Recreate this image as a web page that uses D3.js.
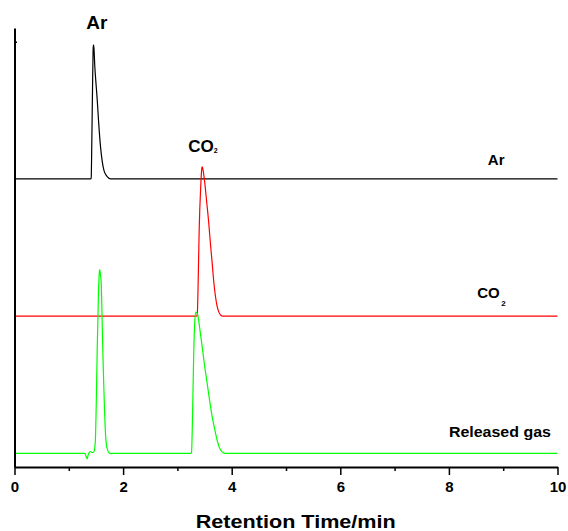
<!DOCTYPE html>
<html>
<head>
<meta charset="utf-8">
<script src="https://cdn.jsdelivr.net/npm/d3@7"></script>
<style>
  body { margin: 0; background: #fff; }
  text { font-family: "Liberation Sans", Arial, sans-serif; font-weight: bold; }
</style>
</head>
<body>
<script>
// Stacked chromatograms: Ar standard, CO2 standard, released gas

// x ticks
var xTicks = [0, 2, 4, 6, 8, 10];
var xMinorTicks = [1, 3, 5, 7, 9];

// trace names and vertical offsets (signal units)
var traceNames = ["Ar", "CO2", "Released gas"];
var traceOffsets = [20, 10, 0];
var traceColors = ["#000000", "#ff0000", "#00ff00"];

// [retention time (min), signal]
var argonTrace = [[0, 0], [1.40, 0], [1.412, 0.05], [1.425, 3.0], [1.44, 7.5], [1.45, 9.6], [1.455, 9.77],
  [1.462, 9.6], [1.479, 8.2], [1.50, 7.0], [1.523, 5.8], [1.55, 4.1], [1.584, 2.35], [1.615, 1.3],
  [1.645, 0.66], [1.675, 0.35], [1.707, 0.17], [1.768, 0], [10, 0]];

var co2Trace = [[0, 0], [3.35, 0], [3.365, 0.05], [3.38, 2.0], [3.401, 6.27], [3.43, 9.5], [3.45, 10.8],
  [3.457, 10.88], [3.47, 10.7], [3.505, 9.67], [3.54, 8.3], [3.578, 6.76], [3.61, 5.2], [3.641, 3.84],
  [3.67, 2.5], [3.702, 1.41], [3.73, 0.75], [3.762, 0.31], [3.79, 0.1], [3.825, 0], [10, 0]];

var releasedTrace = [[0, 0], [1.295, 0], [1.32, -0.25], [1.339, -0.41], [1.355, -0.15], [1.368, 0],
  [1.40, 0.12], [1.431, 0.05], [1.46, 0.1], [1.475, 0.3], [1.492, 1.19], [1.505, 3.5], [1.523, 7.5],
  [1.545, 11.5], [1.565, 13.3], [1.571, 13.39], [1.58, 13.1], [1.597, 12.37], [1.615, 9.5], [1.634, 6.29],
  [1.655, 3.5], [1.676, 1.43], [1.69, 0.7], [1.707, 0.34], [1.737, 0.05], [1.76, 0], [3.25, 0],
  [3.26, 0.05], [3.28, 3.0], [3.302, 7.51], [3.32, 9.6], [3.339, 10.3], [3.355, 10.25], [3.376, 10.06],
  [3.415, 9.0], [3.457, 7.75], [3.5, 6.4], [3.549, 5.08], [3.595, 3.8], [3.641, 2.65], [3.69, 1.7],
  [3.733, 0.93], [3.77, 0.45], [3.812, 0.15], [3.85, 0.03], [3.886, 0], [10, 0]];

var traces = [argonTrace, co2Trace, releasedTrace];

//Set size for chart
var svgwidth = 568;
var svgheight = 531;

var svg = d3.select("body")
            .append("svg")
            .attr("width", svgwidth)
            .attr("height", svgheight);

//Scales
var xScale = d3.scaleLinear()
        .domain([0, 10])
        .range([14.5, 557.5]);

var yScale = d3.scaleLinear()
        .domain([-1, 31])
        .range([467, 28]);

//Traces
var line = d3.line()
        .x(d => xScale(d[0]))
        .y(d => yScale(d[1]))
        .curve(d3.curveMonotoneX);

traces.forEach(function(trace, i) {
    svg.append("path")
        .datum(trace.map(p => [p[0], p[1] + traceOffsets[i]]))
        .attr("d", line)
        .attr("fill", "none")
        .attr("stroke", traceColors[i])
        .attr("stroke-width", 1.2);
});

//Axes
var bottomAxis = d3.axisBottom(xScale)
        .tickValues(xTicks)
        .tickSize(8)
        .tickSizeOuter(0)
        .tickPadding(6);

var xAxisGroup = svg.append("g")
        .attr("transform", `translate(0, ${yScale(-1)})`)
        .call(bottomAxis);

xAxisGroup.select(".domain").attr("stroke-width", 2);
xAxisGroup.selectAll(".tick line").attr("stroke-width", 1.5);
xAxisGroup.selectAll(".tick text")
        .attr("font-size", "15px")
        .attr("font-family", "Liberation Sans, Arial, sans-serif")
        .attr("font-weight", "bold")
        .attr("fill", "#000");

var minorAxis = d3.axisBottom(xScale)
        .tickValues(xMinorTicks)
        .tickSize(4)
        .tickSizeOuter(0)
        .tickFormat("");

var minorGroup = svg.append("g")
        .attr("transform", `translate(0, ${yScale(-1)})`)
        .call(minorAxis);
minorGroup.select(".domain").remove();
minorGroup.selectAll(".tick line").attr("stroke-width", 1.5);

var leftAxis = d3.axisLeft(yScale)
        .tickValues([30])
        .tickSize(-2.5)
        .tickSizeOuter(0)
        .tickFormat("");

var yAxisGroup = svg.append("g")
        .attr("transform", `translate(${xScale(0)}, 0)`)
        .call(leftAxis);
yAxisGroup.select(".domain").attr("stroke-width", 2);
yAxisGroup.selectAll(".tick line").attr("stroke-width", 1.5);

//Axis title
svg.append("text")
    .attr("x", xScale(5.18) - 100)
    .attr("y", 528)
    .attr("font-size", "18px")
    .attr("textLength", 200)
    .attr("lengthAdjust", "spacingAndGlyphs")
    .text("Retention Time/min");

//Peak labels
svg.append("text")
    .attr("x", xScale(1.515))
    .attr("y", 29)
    .attr("text-anchor", "middle")
    .attr("font-size", "19px")
    .text("Ar");

var co2Peak = svg.append("text")
    .attr("x", xScale(3.2))
    .attr("y", 151.5)
    .attr("font-size", "17px");
co2Peak.append("tspan").text("CO");
co2Peak.append("tspan").attr("font-size", "7px").attr("dy", 1).text("2");

//Trace labels
svg.append("text")
    .attr("x", xScale(8.87))
    .attr("y", yScale(traceOffsets[0] + 1.0))
    .attr("text-anchor", "middle")
    .attr("font-size", "15px")
    .text(traceNames[0]);

var co2Label = svg.append("text")
    .attr("x", xScale(8.52))
    .attr("y", yScale(traceOffsets[1] + 1.3))
    .attr("font-size", "15px");
co2Label.append("tspan").text("CO");
co2Label.append("tspan").attr("font-size", "8px").attr("dx", 1.5).attr("dy", 8).text("2");

svg.append("text")
    .attr("x", xScale(8.0))
    .attr("y", yScale(traceOffsets[2] + 1.2))
    .attr("font-size", "15px")
    .attr("textLength", 102)
    .attr("lengthAdjust", "spacingAndGlyphs")
    .text(traceNames[2]);
</script>
</body>
</html>
